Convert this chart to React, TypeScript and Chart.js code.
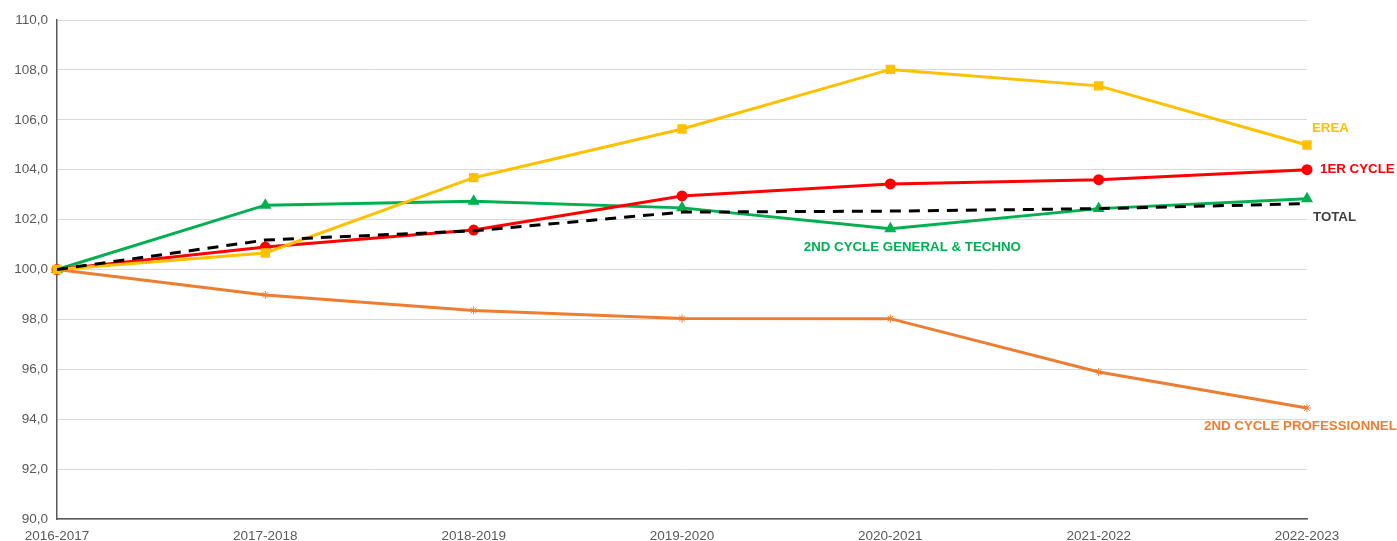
import React, { useEffect, useRef } from "react";
import { Chart, registerables } from "chart.js";

Chart.register(...registerables);

const categories = ["2016-2017", "2017-2018", "2018-2019", "2019-2020", "2020-2021", "2021-2022", "2022-2023"];
const premierCycle = [100, 100.9, 101.58, 102.95, 103.43, 103.6, 104.0];
const secondGeneral = [100, 102.58, 102.74, 102.47, 101.63, 102.44, 102.84];
const secondPro = [100, 98.98, 98.36, 98.04, 98.03, 95.89, 94.45];
const erea = [100, 100.66, 103.68, 105.63, 108.02, 107.36, 104.99];
const total = [100, 101.18, 101.55, 102.3, 102.34, 102.44, 102.64];
const yTicks = [90, 92, 94, 96, 98, 100, 102, 104, 106, 108, 110];

const seriesLabels = [
  { ds: 0, text: "1ER CYCLE", color: "#FF0000", idx: 6, dx: 13, dy: 0, align: "left" },
  { ds: 1, text: "2ND CYCLE GENERAL & TECHNO", color: "#00B050", idx: 4, dx: 22, dy: 19, align: "center" },
  { ds: 2, text: "2ND CYCLE PROFESSIONNEL", color: "#ED7D31", idx: 6, dx: -103, dy: 18, align: "left" },
  { ds: 3, text: "EREA", color: "#FFC000", idx: 6, dx: 5, dy: -17, align: "left" },
  { ds: 4, text: "TOTAL", color: "#404040", idx: 6, dx: 6, dy: 14, align: "left" },
];

const labelPlugin = {
  id: "seriesLabels",
  afterDatasetsDraw(chart: any) {
    const ctx = chart.ctx;
    ctx.save();
    ctx.font = "bold 13.3px 'Liberation Sans', Arial, sans-serif";
    ctx.textBaseline = "middle";
    for (const l of seriesLabels) {
      const meta = chart.getDatasetMeta(l.ds);
      const pt = meta.data[l.idx];
      ctx.fillStyle = l.color;
      ctx.textAlign = l.align;
      ctx.fillText(l.text, pt.x + l.dx, pt.y + l.dy);
    }
    ctx.restore();
  },
};

export default function App() {
  const ref = useRef<HTMLCanvasElement | null>(null);
  useEffect(() => {
    document.body.style.margin = "0";
    const chart = new Chart(ref.current!, {
      type: "line",
      data: {
        labels: categories,
        datasets: [
          {
            label: "1ER CYCLE",
            data: premierCycle,
            borderColor: "#FF0000",
            backgroundColor: "#FF0000",
            borderWidth: 3,
            pointStyle: "circle",
            pointRadius: 4,
            order: 3,
          },
          {
            label: "2ND CYCLE GENERAL & TECHNO",
            data: secondGeneral,
            borderColor: "#00B050",
            backgroundColor: "#00B050",
            borderWidth: 3,
            pointStyle: "triangle",
            pointRadius: 4,
            order: 4,
          },
          {
            label: "2ND CYCLE PROFESSIONNEL",
            data: secondPro,
            borderColor: "#ED7D31",
            backgroundColor: "#ED7D31",
            borderWidth: 3,
            pointStyle: "star",
            pointRadius: 4,
            pointBorderWidth: 1,
            order: 5,
          },
          {
            label: "EREA",
            data: erea,
            borderColor: "#FFC000",
            backgroundColor: "#FFC000",
            borderWidth: 3,
            pointStyle: "rect",
            pointRadius: 4.5,
            order: 2,
          },
          {
            label: "TOTAL",
            data: total,
            borderColor: "#000000",
            backgroundColor: "#000000",
            borderWidth: 3,
            borderDash: [11, 8],
            pointRadius: 0,
            order: 1,
          },
        ],
      },
      options: {
        animation: false,
        responsive: false,
        maintainAspectRatio: false,
        layout: { padding: { top: 20, right: 90, left: 0, bottom: 0 } },
        plugins: { legend: { display: false }, tooltip: { enabled: false } },
        elements: { line: { tension: 0 } },
        scales: {
          x: {
            offset: false,
            grid: { display: false, drawTicks: false },
            border: { display: true, color: "#595959", width: 1.5 },
            ticks: {
              color: "#595959",
              font: { size: 13.5, family: "'Liberation Sans', Arial, sans-serif" },
              padding: 9,
              maxRotation: 0,
              autoSkip: false,
            },
            afterFit(scale: any) {
              scale.height = 22;
            },
          },
          y: {
            min: 90,
            max: 110,
            afterBuildTicks(scale: any) {
              scale.ticks = yTicks.map((v) => ({ value: v }));
            },
            grid: { color: "#D9D9D9", lineWidth: 1, drawTicks: false },
            border: { display: true, color: "#595959", width: 1.5 },
            ticks: {
              color: "#595959",
              font: { size: 13.5, family: "'Liberation Sans', Arial, sans-serif" },
              padding: 9,
              callback: (v: any) => Number(v).toFixed(1).replace(".", ","),
            },
            afterFit(scale: any) {
              scale.width = 57;
            },
          },
        },
      },
      plugins: [labelPlugin],
    });
    return () => chart.destroy();
  }, []);
  return (
    <div style={{ position: "fixed", left: 0, top: 0, width: 1397, height: 541 }}>
      <canvas ref={ref} width={1397} height={541} style={{ width: 1397, height: 541 }} />
    </div>
  );
}
